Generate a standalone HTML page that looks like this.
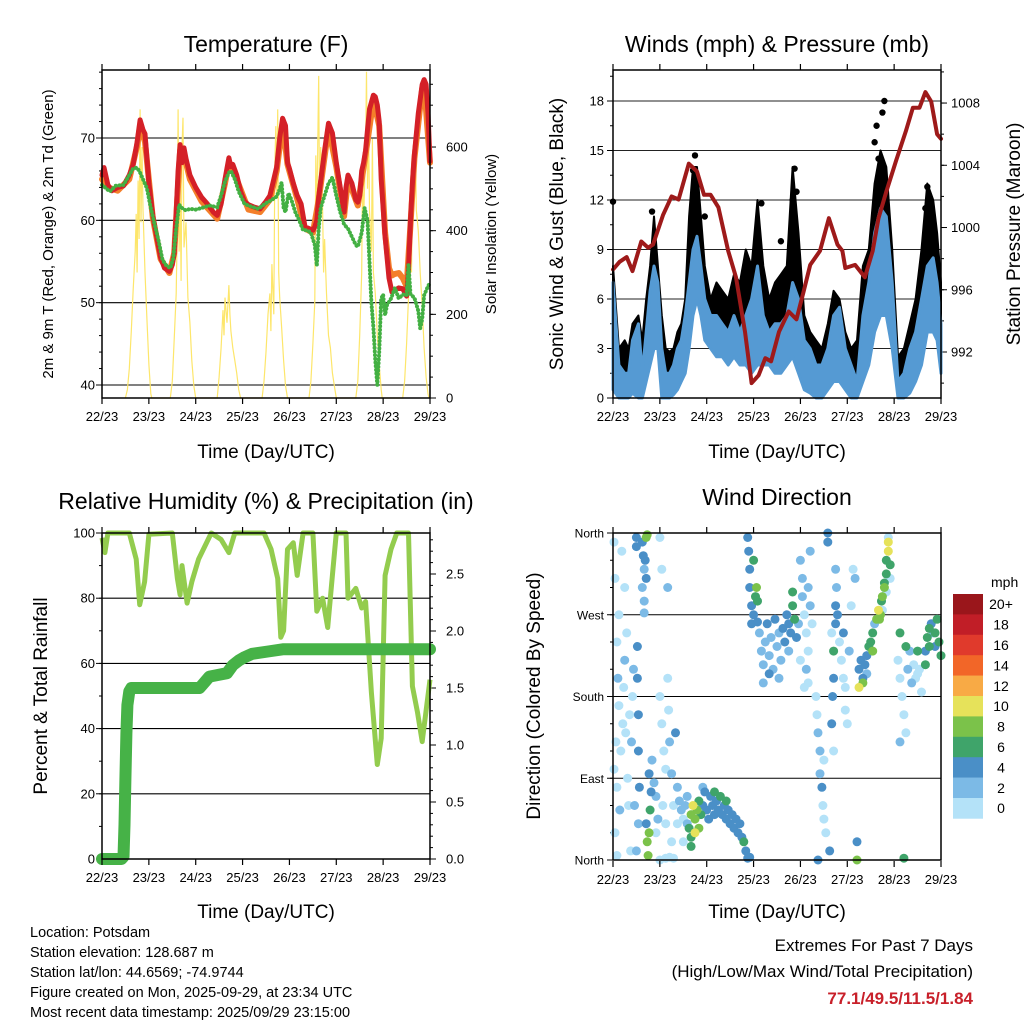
<!DOCTYPE html>
<html><head><meta charset="utf-8"><title>Station Meteogram</title>
<style>
html,body{margin:0;padding:0;background:#fff;}
svg{display:block;font-family:"Liberation Sans",Arial,sans-serif;}
</style></head>
<body>
<svg id="chart" width="1024" height="1024" viewBox="0 0 1024 1024" xmlns="http://www.w3.org/2000/svg">
<rect x="0" y="0" width="1024" height="1024" fill="#fff"/>
<g id="p1"></g>
<g id="p2"></g>
<g id="p3"></g>
<g id="p4"></g>
<g id="cb"></g>
<text x="266" y="52" font-size="23" text-anchor="middle">Temperature (F)</text>
<text x="777" y="52" font-size="23" text-anchor="middle">Winds (mph) &amp; Pressure (mb)</text>
<text x="266" y="509" font-size="23" text-anchor="middle">Relative Humidity (%) &amp; Precipitation (in)</text>
<text x="777" y="505" font-size="23" text-anchor="middle">Wind Direction</text>
<text x="266" y="458" font-size="19" text-anchor="middle">Time (Day/UTC)</text>
<text x="777" y="458" font-size="19" text-anchor="middle">Time (Day/UTC)</text>
<text x="266" y="918" font-size="19" text-anchor="middle">Time (Day/UTC)</text>
<text x="777" y="918" font-size="19" text-anchor="middle">Time (Day/UTC)</text>
<text transform="translate(53,234) rotate(-90)" font-size="15" text-anchor="middle">2m &amp; 9m T (Red, Orange) &amp; 2m Td (Green)</text>
<text transform="translate(496,234) rotate(-90)" font-size="15" text-anchor="middle">Solar Insolation (Yellow)</text>
<text transform="translate(563,234) rotate(-90)" font-size="19" text-anchor="middle">Sonic Wind &amp; Gust (Blue, Black)</text>
<text transform="translate(1020,234) rotate(-90)" font-size="19" text-anchor="middle">Station Pressure (Maroon)</text>
<text transform="translate(47,696) rotate(-90)" font-size="19" text-anchor="middle">Percent &amp; Total Rainfall</text>
<text transform="translate(540,696) rotate(-90)" font-size="19" text-anchor="middle">Direction (Colored By Speed)</text>
<g font-size="14.5">
<text x="30" y="937">Location: Potsdam</text>
<text x="30" y="957">Station elevation: 128.687 m</text>
<text x="30" y="977">Station lat/lon: 44.6569; -74.9744</text>
<text x="30" y="997">Figure created on Mon, 2025-09-29, at 23:34 UTC</text>
<text x="30" y="1017">Most recent data timestamp: 2025/09/29 23:15:00</text>
</g>
<text x="973" y="951" font-size="17" text-anchor="end">Extremes For Past 7 Days</text>
<text x="973" y="977" font-size="17" text-anchor="end">(High/Low/Max Wind/Total Precipitation)</text>
<text x="973" y="1004" font-size="17" font-weight="bold" fill="#c8202a" text-anchor="end">77.1/49.5/11.5/1.84</text>
</svg>
<script>
// ---------- DATA ----------
const dayLabels=['22/23','23/23','24/23','25/23','26/23','27/23','28/23','29/23'];
const tempTicks=[40,50,60,70];
const solarTicks=[0,200,400,600];
const windTicks=[0,3,6,9,12,15,18];
const pressTicks=[992,996,1000,1004,1008];
const rhTicks=[0,20,40,60,80,100];
const precipTicks=['0.0','0.5','1.0','1.5','2.0','2.5'];
const dirTicks=['North','East','South','West','North'];
const speedLabels=['0','2','4','6','8','10','12','14','16','18','20+'];
const speedColors=['#b4e2f8','#7cbae6','#4a8fc7','#3fa46a','#7bc24a','#e6e25a','#f8aa45','#f26628','#e03a2c','#c11e27','#9a161b'];

const tempRH=[0,1,3,5,8,11,14,16,18,19.5,21,22,24,26,28,30,32,34.5,36,37,38,39,40,41,42,43,45,48,51,54,57,59,61,63,65,66,67,69,71,73,75,78,81,84,86,88,89.5,91,92.5,94,95,96,98,100,102,104,106,108,109,110,111,112,114,116,118,120,122,124,125,126,128,130,131,132,133,134,135,136,137,139,140,141,142,143,145,147,148.5,150,152,154,156,157,158,159,160,162,164,165,166,167,168];
const tempRed=[65.5,66.4,64.3,63.6,64,64.2,65.5,66.8,69.5,72.2,71,70.5,64.5,60.6,58,55.5,54.2,53.8,54.6,56,61,66,69.2,67,68.8,67.5,65.5,64,62.8,62,61,60.6,62,65,67.6,66.5,66.8,65.5,63.5,62.3,61.9,61.6,61.4,62.3,63,65,66.5,70,72.4,71.5,67,66.3,64.5,63,62,59.2,59,58.8,59.2,60,62.8,64.8,68.5,71.8,70.6,67,64,61,64,65.5,64.5,62.5,62.2,63,66,67,68.5,71,73.5,75.2,75,74,72,65,58,53,51.3,51.5,51.8,51.7,50.8,54,60,64.5,68,73,76.5,77.1,76.5,73,67.2];
const tempOH=[0,3,8,14,18,19.5,22,26,30,34.5,37,40,42,45,51,59,63,65,69,75,81,86,89.5,92.5,95,100,104,108,111,116,120,124,126,131,135,139,142,145,147,148.5,150,152,154,156,158,160,164,165,168];
const tempOrange=[65,64,63.6,65,69,71.5,69.5,60.3,55.3,53.6,56,68.5,68,65,62.3,60.2,64.5,67,65,61.3,61,62.5,66,71.8,66.8,62.6,59,58.5,62.5,71.2,66.5,60.5,65,61.8,68,74.6,71.5,58.5,54.2,53.3,53.5,53.6,53,52,59.5,67.5,76,76.6,67];
const dewH=[0,2,4,7,11,14,16,18,19.5,21,23,25,27,29,31,33,35,36.5,38,39.5,41,43,45,48,51,55,59,61,63,65,66,68,70,73,76,80,84,87,89.5,91,92,93,94,95.5,97,99,101,103,105,107,109,110,111,112,114,116,118,120,122,124,126,128,130,131,133,134.5,136,137,138,139,140,141,142,143,144,145,146,148,150,152,154,156,157,158,160,162,163,164,165,167,168];
const dewV=[64.3,63.9,63.5,64.2,64.3,65.5,66.3,66.4,65.8,65,63.9,61.5,59.5,57.5,55.2,54.5,54.2,55.4,59,61.9,61.5,61.2,61.4,61.3,61.5,61.8,61.6,63,64.7,65.8,66,65,63.5,62,61.7,61.4,62.1,62.5,62.9,63.8,64.6,61.5,61,63.3,62.5,61,60,58.8,58.8,58.5,57,54.5,59,61.5,63,64.5,65.2,63,61,59.5,59,58,57,56.8,58.5,61.5,60,55,50,47,43,40,44,50.5,51,48.5,49.7,50.5,51.8,50.5,51,50.9,54.6,51,50.6,49,46.9,48,50.9,52,52.4];
const solarH=[12,13,14,15,16,17,17.5,18,18.5,19,19.5,20,20.5,21,22,23,24,25,25.5,35,36,37,38,38.5,39,39.5,40,40.5,41,41.5,42,43,44,45,46,47,48,59,60,61,62,62.5,63,64,65,65.5,66,67,68,69,70,71,82,83,84,85,86,86.5,87,88,88.5,89,89.5,90,90.5,91,92,93,94,95,106,107,108,109,109.5,110,110.5,111,111.5,112,113,113.5,114,115,116,117,118,119,120,130,131,132,133,133.5,134,135,135.5,136,136.5,137,138,138.5,139,140,141,142,143,143.5,154,155,156,157,158,158.5,159,160,160.5,161,162,163,164,165,166,167,167.5];
const solarV=[0,20,70,160,260,350,440,300,520,380,690,420,600,450,300,190,80,10,0,0,40,140,250,400,690,350,500,280,600,670,360,420,240,180,90,30,0,0,50,120,210,150,240,180,270,200,160,120,90,60,20,0,0,40,110,200,250,160,320,200,550,650,480,690,300,240,170,90,30,0,0,40,130,230,580,430,600,770,400,600,450,300,380,250,150,120,60,30,0,0,40,150,300,550,420,600,780,500,660,450,350,620,300,250,150,80,20,0,0,40,130,240,400,300,520,560,620,450,400,300,220,120,50,10,0];

const windH=[0,3,6,8,10,13,15,17,19,21,23,25,27,29,31,33,35,37,39,41,43,45,47,50,53,56,59,62,65,68,71,74,77,80,83,86,89,92,95,98,101,104,107,110,113,116,119,122,125,128,131,134,137,140,143,146,149,152,155,158,161,164,166,168];
const gustHi=[8,3,3.5,3,4.5,5,3.5,6,8,11,8,5,3,2.8,3,4,4.5,6,11,14,14,11,8,6,7,6.5,6,7.5,7,9,8,12,8,6,7,7.5,8,14,10,5,4,3.5,3,4.5,6.5,6,4,3,3.5,8,9,13,15,14,9,2.5,3,4.5,6,9,13,12,10,7];
const windHi=[7,2,1.5,1.5,3.5,4.5,1.5,4,6.5,8,7,3,1.5,1.5,2,3,3.5,5,7,9,9.8,8,6,5,5,4.5,4,5,4,5,6,8,5,4,4.5,4.5,5,7,6,3.5,3,2,2,3,5,5.5,3,2,1,5,7,10,11.5,11,7,1,1.5,3,4,6,8,8.5,7,4.5];
const windLo=[0.5,0,0,0,0.3,0,0,1,2,3,3,0,0,0,0.2,0.5,1,1.5,3,5,6,5,3.5,3,2.5,2.5,2,2.5,2,2,1.5,2,2,2,1.5,1.5,2,2.5,1.5,0.5,0.3,0,0,0.5,1,1,0.5,0,0,1,2,4,5,5,3,0,0,0.3,1,2,4,4,3.5,1.5];
const gustOutH=[0,20,42,41,93,94,135,139,138,161,134,47,86,76,160,92,136];
const gustOutV=[11.9,11.3,14.7,13.8,13.9,12.5,16.5,18,17.3,12.8,15.5,11,9.5,11.8,11.5,12,14.5];
const pressH=[0,3.4,7,10,14.5,18,20.5,25.6,30,33.6,38.8,43,46.6,50,54,59,63,67.6,71,74.6,78,81,85,90,94,97.7,101,106,110.6,115,117.5,119,124,129,133,136,140,145,150,153.6,157,160,163,166,168];
const pressV=[997.3,997.8,998.1,997.2,999.1,998.7,998.9,1000.8,1002,1001.8,1004.1,1003.6,1002.1,1002.1,1001.3,998.5,996.8,993.3,990,990.5,991.6,991.4,993.3,994.6,994.1,995.9,997.6,998.5,1000.6,998.9,998.5,997.4,997.6,996.8,998.5,1000.6,1002.3,1004.3,1006.2,1007.7,1007.7,1008.7,1008.1,1006,1005.7];

const rhH=[0,1.5,3,14,17.5,19.3,21.8,24,36,38.6,40,41,43.6,46,49.5,56,61,65,68,83,86.6,90,91.6,93,95,98,100,103,108,110,113,115.6,118,120,125,126,130,133,135,138,141,143,145,148,151,157,159,161.6,164,168];
const rhV=[98.5,94,100,100,92,78,85,99.6,100,86,81,90,78.5,85,92,100,98,94,100,100,95,86,68,70,95,97,87,100,100,76,80,71,87,100,100,80,83,77,79,51,29,37,87,95,100,100,53,45,36,55];
const prH=[0,10,11,11.5,12,12.5,13,14,15,50,53,55,58,64,67,70,73,77,85,93,168];
const prV=[0,0,0.02,0.3,0.7,1.1,1.35,1.47,1.5,1.5,1.56,1.6,1.61,1.63,1.7,1.74,1.77,1.8,1.82,1.84,1.84];

const dirH=[0.5,1,2,2.5,3,1.5,0.5,2,3.5,1,2,4,5,5.5,6,7,6.5,7.5,8,9,4.5,6,3,8.5,9.5,10,10.5,11,12.5,12.5,13,13,13.5,13,12,12,12,15,15.5,16,15,16,17,17.5,16.5,16,17,17,17.5,18,18.5,19,19.5,18.5,20,21,22,23,22,24,25,28,24,24,25,26,27,25.5,27,28,28.5,29,30,31,32,33,33,30,29,27,31,34,35,36,37,38,39,40,40,41,42,42,43,44,44,45,46,47,48,49,50,51,52,53,54,55,56,57,58,59,60,61,62,63,64,65,66,67,68,69,70,52,46,58,38,36,40,69,69.5,70,70,71,71,72,73,73.5,74,72,74,75,76,77,78,79,80,81,82,83,84,85,86,87,88,89,90,91,92,92,93,94,95,77,80,85,90,96,97,97,98,99,100,99,100,101,101,102,96,98,100,104,104.5,105,106,106,107,107.5,108,109,108,110,110,105,111,112,112.5,113,113,114,114,114.5,114,113,112,116,117,118,119,119,120,121,122,123,124,118,125,125,115,126,127,128,129,130,131,132,133,134,130,128,135,126,133,136,136.5,137,137.5,138,139,139,140,140,141,141,142,142,138,140,141,146,147,148,149,150,147,151,152,153,154,155,156,157,158,147,150,149,156,160,161,162,163,164,165,166,167,168,160,162,165];
const dirDeg=[350,310,240,200,170,130,100,80,55,30,5,120,150,190,220,250,140,90,60,10,340,300,270,160,130,180,210,60,235,200,160,120,80,40,10,355,345,350,335,320,300,285,355,358,330,272,310,40,20,5,30,55,75,95,110,85,70,45,30,355,320,300,0,180,150,120,100,60,40,200,165,130,95,60,140,80,40,20,3,2,2,65,55,45,60,40,35,25,50,60,30,45,55,35,65,50,60,75,55,45,70,60,50,65,55,70,50,60,45,55,40,50,35,45,30,40,25,20,10,2,3,75,80,65,70,20,15,355,340,320,300,280,260,330,290,300,285,270,262,250,230,215,240,260,225,245,210,265,235,250,220,255,240,270,260,250,280,295,265,245,260,195,205,200,230,330,310,290,270,250,230,210,300,340,280,260,220,190,195,180,160,140,120,95,80,60,45,30,110,360,350,0,10,150,180,200,230,260,280,300,320,120,250,240,220,200,190,165,150,230,280,320,310,250,20,0,270,210,220,200,215,225,235,240,250,260,205,195,265,190,230,275,265,270,285,290,300,305,315,330,340,350,325,310,275,295,355,220,200,180,160,140,130,210,230,195,215,200,205,210,185,250,235,2,230,230,245,255,260,250,235,265,240,225,215,235,250];
const dirSpd=[0,0,0,1,0,0,0,0,1,0,0,0,0,0,1,0,0,0,0,0,0,0,0,0,1,0,1,1,2,2,2,2,2,1,1,2,2,2,2,1,1,1,4,4,2,1,2,2,4,4,4,3,2,2,1,1,1,1,0,0,0,1,0,0,0,0,0,0,0,0,0,1,1,0,2,1,0,0,0,0,0,1,1,0,1,1,3,3,4,5,5,4,4,4,3,3,2,2,2,2,2,2,2,2,2,3,2,2,2,2,2,2,2,2,2,2,2,3,2,2,2,3,1,3,1,0,3,2,2,2,2,2,2,3,3,4,3,2,2,1,1,1,1,2,1,1,1,2,1,1,1,2,2,2,2,2,3,3,3,2,1,1,2,1,1,1,1,1,0,0,0,1,1,1,1,0,0,0,0,0,0,1,1,1,2,0,0,0,0,2,2,2,2,2,2,2,3,2,2,1,1,0,0,0,0,0,0,0,0,1,0,0,1,2,2,4,2,2,2,2,2,2,3,3,3,1,1,4,4,5,4,5,4,4,3,4,4,3,3,3,5,5,3,0,0,0,0,0,0,0,0,0,1,1,1,1,0,0,0,0,0,3,3,3,3,2,3,3,2,1,2,3,3,3,3,3,3,3,2,3,3,3,2,3,3,3,3];

// ---------- HELPERS ----------
const NS='http://www.w3.org/2000/svg';
function mk(parent,tag,attrs){const e=document.createElementNS(NS,tag);for(const k in attrs)e.setAttribute(k,attrs[k]);parent.appendChild(e);return e;}
const W=328;
function X(h,x0){return x0+h*W/168;}
const yT=t=>385-(t-40)*8.233;
const yS=s=>398-s*0.4183;
const yW=v=>398-v*16.5;
const yP=p=>352-(p-992)*15.56;
const yR=r=>859-r*3.26;
const yPr=v=>859-v*114;
const yD=d=>860-d*327/360;
function pts(hs,vs,x0,fy){return hs.map((h,i)=>X(h,x0).toFixed(1)+','+fy(vs[i]).toFixed(1)).join(' ');}

function frame(g,x0,y0,y1){
  for(let i=0;i<dayLabels.length;i++){
    const x=x0+i*W/7;
    let t=mk(g,'line',{x1:x,y1:y1,x2:x,y2:y1+6,stroke:'#000','stroke-width':1.2});
    
    
    t=mk(g,'line',{x1:x,y1:y0,x2:x,y2:y0-6,stroke:'#000','stroke-width':1.2});
    
    
    const lb=mk(g,'text',{x:x,y:y1+23,'font-size':13,'text-anchor':'middle'});
    lb.textContent=dayLabels[i];
    
    
  }
}
function box(g,x0,y0,y1){
  const r=mk(g,'rect',{x:x0,y:y0,width:W,height:y1-y0,fill:'none',stroke:'#000','stroke-width':1.5});
  
  
}
function hgrid(g,x0,y,col){
  const l=mk(g,'line',{x1:x0,y1:y,x2:x0+W,y2:y,stroke:col||'#000','stroke-width':1.1});
  
  
}
function ylab(g,x,y,txt,anchor,size){
  const t=mk(g,'text',{x:x,y:y+4.5,'font-size':size||13,'text-anchor':anchor});
  t.textContent=txt;
  
  
}
function ytick(g,x,y,dir,len){
  const t=mk(g,'line',{x1:x,y1:y,x2:x+dir*len,y2:y,stroke:'#000','stroke-width':1});
  
  
}

// ---------- PANEL 1: TEMPERATURE ----------
(function(){
  const g=document.getElementById('p1'),x0=102,y0=70,y1=398;
  tempTicks.forEach(t=>{hgrid(g,x0,yT(t));ylab(g,95,yT(t),String(t),'end');ytick(g,x0,yT(t),-1,6);});
  for(let t=40;t<=78;t+=2){ytick(g,x0,yT(t),-1,3);}
  solarTicks.forEach(s=>{ylab(g,446,yS(s),String(s),'start');ytick(g,x0+W,yS(s),1,6);});
  for(let s=0;s<=780;s+=50){ytick(g,x0+W,yS(s),1,3);}
  let p=mk(g,'polyline',{points:pts(solarH,solarV,x0,yS),fill:'none',stroke:'#fde66b','stroke-width':1.2});
  
  
  p=mk(g,'polyline',{points:pts(tempOH,tempOrange,x0,yT),fill:'none',stroke:'#f47f2a','stroke-width':6,'stroke-linejoin':'round','stroke-linecap':'round'});
  
  
  p=mk(g,'polyline',{points:pts(tempRH,tempRed,x0,yT),fill:'none',stroke:'#d42027','stroke-width':5,'stroke-linejoin':'round','stroke-linecap':'round'});
  
  
  p=mk(g,'polyline',{points:pts(dewH,dewV,x0,yT),fill:'none',stroke:'#43b043','stroke-width':4,'stroke-dasharray':'0.1 3.6','stroke-linecap':'round'});
  
  
  box(g,x0,y0,y1);frame(g,x0,y0,y1);
})();

// ---------- PANEL 2: WIND & PRESSURE ----------
(function(){
  const g=document.getElementById('p2'),x0=613,y0=70,y1=398;
  windTicks.forEach(v=>{if(v>0)hgrid(g,x0,yW(v),'#222');ylab(g,604,yW(v),String(v),'end');ytick(g,x0,yW(v),-1,6);});
  for(let v=0;v<=19.5;v+=1.5){ytick(g,x0,yW(v),-1,3);}
  pressTicks.forEach(pv=>{ylab(g,951,yP(pv),String(pv),'start');ytick(g,x0+W,yP(pv),1,6);});
  for(let pv=990;pv<=1010;pv+=2){ytick(g,x0+W,yP(pv),1,3);}
  const up=windH.map((h,i)=>X(h,x0).toFixed(1)+','+yW(gustHi[i]).toFixed(1));
  const dn=windH.map((h,i)=>X(h,x0).toFixed(1)+','+yW(windLo[i]).toFixed(1)).reverse();
  let p=mk(g,'polygon',{points:up.concat(dn).join(' '),fill:'#000',stroke:'#000','stroke-width':2,'stroke-linejoin':'round'});
  
  
  gustOutH.forEach((h,i)=>{
    const c=mk(g,'circle',{cx:X(h,x0),cy:yW(gustOutV[i]),r:3.2,fill:'#000'});
    
    
  });
  const up2=windH.map((h,i)=>X(h,x0).toFixed(1)+','+yW(windHi[i]).toFixed(1));
  const dn2=windH.map((h,i)=>X(h,x0).toFixed(1)+','+yW(windLo[i]).toFixed(1)).reverse();
  p=mk(g,'polygon',{points:up2.concat(dn2).join(' '),fill:'#559ad3',stroke:'#559ad3','stroke-width':3,'stroke-linejoin':'round'});
  
  
  p=mk(g,'polyline',{points:pts(pressH,pressV,x0,yP),fill:'none',stroke:'#9e1a1a','stroke-width':4,'stroke-linejoin':'round','stroke-linecap':'round'});
  
  
  box(g,x0,y0,y1);frame(g,x0,y0,y1);
})();

// ---------- PANEL 3: RH & PRECIP ----------
(function(){
  const g=document.getElementById('p3'),x0=102,y0=533,y1=859;
  rhTicks.forEach(r=>{if(r>0&&r<100)hgrid(g,x0,yR(r));ylab(g,95,yR(r),String(r),'end');ytick(g,x0,yR(r),-1,6);});
  for(let r=0;r<=100;r+=10){ytick(g,x0,yR(r),-1,3);}
  precipTicks.forEach(s=>{const v=parseFloat(s);ylab(g,446,yPr(v),s,'start');ytick(g,x0+W,yPr(v),1,6);});
  for(let v=0;v<=2.85;v+=0.1){ytick(g,x0+W,yPr(v),1,3);}
  let p=mk(g,'polyline',{points:pts(rhH,rhV,x0,yR),fill:'none',stroke:'#93cc4e','stroke-width':5,'stroke-linejoin':'round'});
  
  
  p=mk(g,'polyline',{points:pts(prH,prV,x0,yPr),fill:'none',stroke:'#46b247','stroke-width':12,'stroke-linejoin':'round','stroke-linecap':'round'});
  
  
  box(g,x0,y0,y1);frame(g,x0,y0,y1);
})();

// ---------- PANEL 4: WIND DIRECTION ----------
(function(){
  const g=document.getElementById('p4'),x0=613,y0=533,y1=860;
  dirTicks.forEach((t,i)=>{const y=yD(i*90);if(i>0&&i<4)hgrid(g,x0,y);ylab(g,604,y,t,'end',12);ytick(g,x0,y,-1,6);});
  for(let d=0;d<=360;d+=30){ytick(g,x0,yD(d),-1,3);}
  const order=dirH.map((h,i)=>i).sort((a,b)=>dirSpd[a]-dirSpd[b]);
  order.forEach(i=>{
    const c=mk(g,'circle',{cx:X(dirH[i],x0).toFixed(1),cy:yD(dirDeg[i]).toFixed(1),r:4.5,fill:speedColors[dirSpd[i]]});
    
    
  });
  box(g,x0,y0,y1);frame(g,x0,y0,y1+1);
})();

// ---------- COLORBAR ----------
(function(){
  const g=document.getElementById('cb'),top=594,bh=20.4;
  const t=mk(g,'text',{x:991,y:587,'font-size':14});
  t.textContent='mph';
  
  
  for(let i=0;i<speedLabels.length;i++){
    const k=speedLabels.length-1-i;
    const r=mk(g,'rect',{x:953,y:top+i*bh,width:30,height:bh+0.3,fill:speedColors[k]});
    
    
    const l=mk(g,'text',{x:1001,y:top+i*bh+bh/2+5,'font-size':14,'text-anchor':'middle'});
    l.textContent=speedLabels[k];
    
    
  }
})();
</script>
</body></html>
